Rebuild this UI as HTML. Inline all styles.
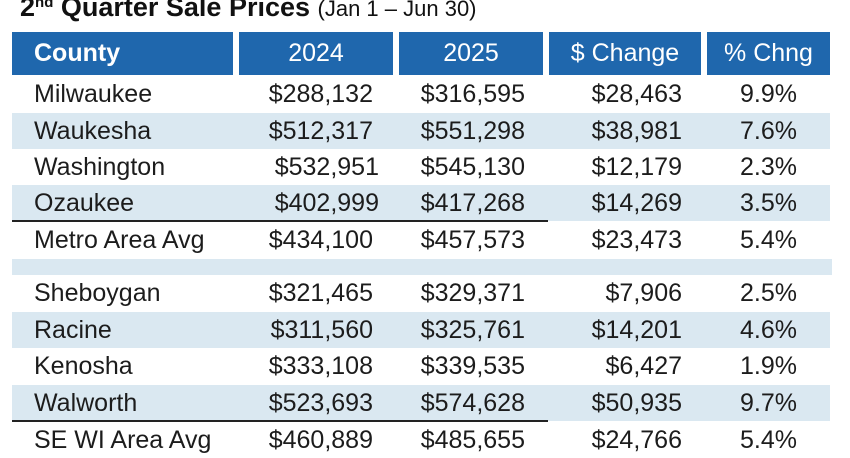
<!DOCTYPE html>
<html><head><meta charset="utf-8"><style>
*{margin:0;padding:0;box-sizing:border-box}
body{width:850px;height:446px;overflow:hidden;background:#fff;position:relative;font-family:"Liberation Sans",sans-serif;color:#1c1c1c}
.t{position:absolute;left:20px;top:-8px;font-size:27px;font-weight:bold;white-space:nowrap;color:#111}
.t sup{font-size:15px;vertical-align:top;position:relative;top:2px}
.t span{font-weight:normal;font-size:22px}
.h{position:absolute;top:32px;height:43px;background:#1f67ad;color:#fff;font-size:25px;line-height:43px;text-align:center}
.r{position:absolute;left:0;width:850px;height:36px;font-size:25px;line-height:36px}
.bg{position:absolute;left:12px;width:818px;background:#dae8f1}
.c{position:absolute;top:0;white-space:nowrap}
.n{left:34px}
.a{right:477px;text-align:right}
.b{right:325px;text-align:right}
.d{right:168px;text-align:right}
.p{right:53px;text-align:right}
.ln{position:absolute;left:12px;width:536px;height:2px;background:#222}
</style></head><body>
<div class="t">2<sup>nd</sup> Quarter Sale Prices <span>(Jan 1 – Jun 30)</span></div>
<div class="h" style="left:12px;width:221px;text-align:left;padding-left:22px;font-weight:bold">County</div>
<div class="h" style="left:239px;width:154px">2024</div>
<div class="h" style="left:399px;width:144px">2025</div>
<div class="h" style="left:549px;width:152px">$ Change</div>
<div class="h" style="left:707px;width:123px">% Chng</div>

<div class="bg" style="top:113px;height:36px"></div>
<div class="bg" style="top:185px;height:36px"></div>
<div class="bg" style="top:259px;height:16px;width:820px"></div>
<div class="bg" style="top:312px;height:36px"></div>
<div class="bg" style="top:385px;height:36px"></div>
<div class="ln" style="top:220px"></div>
<div class="ln" style="top:420px"></div>

<div class="r" style="top:76px"><div class="c n">Milwaukee</div><div class="c a">$288,132</div><div class="c b">$316,595</div><div class="c d">$28,463</div><div class="c p">9.9%</div></div>
<div class="r" style="top:113px"><div class="c n">Waukesha</div><div class="c a">$512,317</div><div class="c b">$551,298</div><div class="c d">$38,981</div><div class="c p">7.6%</div></div>
<div class="r" style="top:149px"><div class="c n">Washington</div><div class="c a" style="right:471px">$532,951</div><div class="c b">$545,130</div><div class="c d">$12,179</div><div class="c p">2.3%</div></div>
<div class="r" style="top:185px"><div class="c n">Ozaukee</div><div class="c a" style="right:471px">$402,999</div><div class="c b">$417,268</div><div class="c d">$14,269</div><div class="c p">3.5%</div></div>
<div class="r" style="top:222px"><div class="c n">Metro Area Avg</div><div class="c a">$434,100</div><div class="c b">$457,573</div><div class="c d">$23,473</div><div class="c p">5.4%</div></div>
<div class="r" style="top:275px"><div class="c n">Sheboygan</div><div class="c a">$321,465</div><div class="c b">$329,371</div><div class="c d">$7,906</div><div class="c p">2.5%</div></div>
<div class="r" style="top:312px"><div class="c n">Racine</div><div class="c a">$311,560</div><div class="c b">$325,761</div><div class="c d">$14,201</div><div class="c p">4.6%</div></div>
<div class="r" style="top:348px"><div class="c n">Kenosha</div><div class="c a">$333,108</div><div class="c b">$339,535</div><div class="c d">$6,427</div><div class="c p">1.9%</div></div>
<div class="r" style="top:385px"><div class="c n">Walworth</div><div class="c a">$523,693</div><div class="c b">$574,628</div><div class="c d">$50,935</div><div class="c p">9.7%</div></div>
<div class="r" style="top:422px"><div class="c n">SE WI Area Avg</div><div class="c a">$460,889</div><div class="c b">$485,655</div><div class="c d">$24,766</div><div class="c p">5.4%</div></div>
</body></html>
